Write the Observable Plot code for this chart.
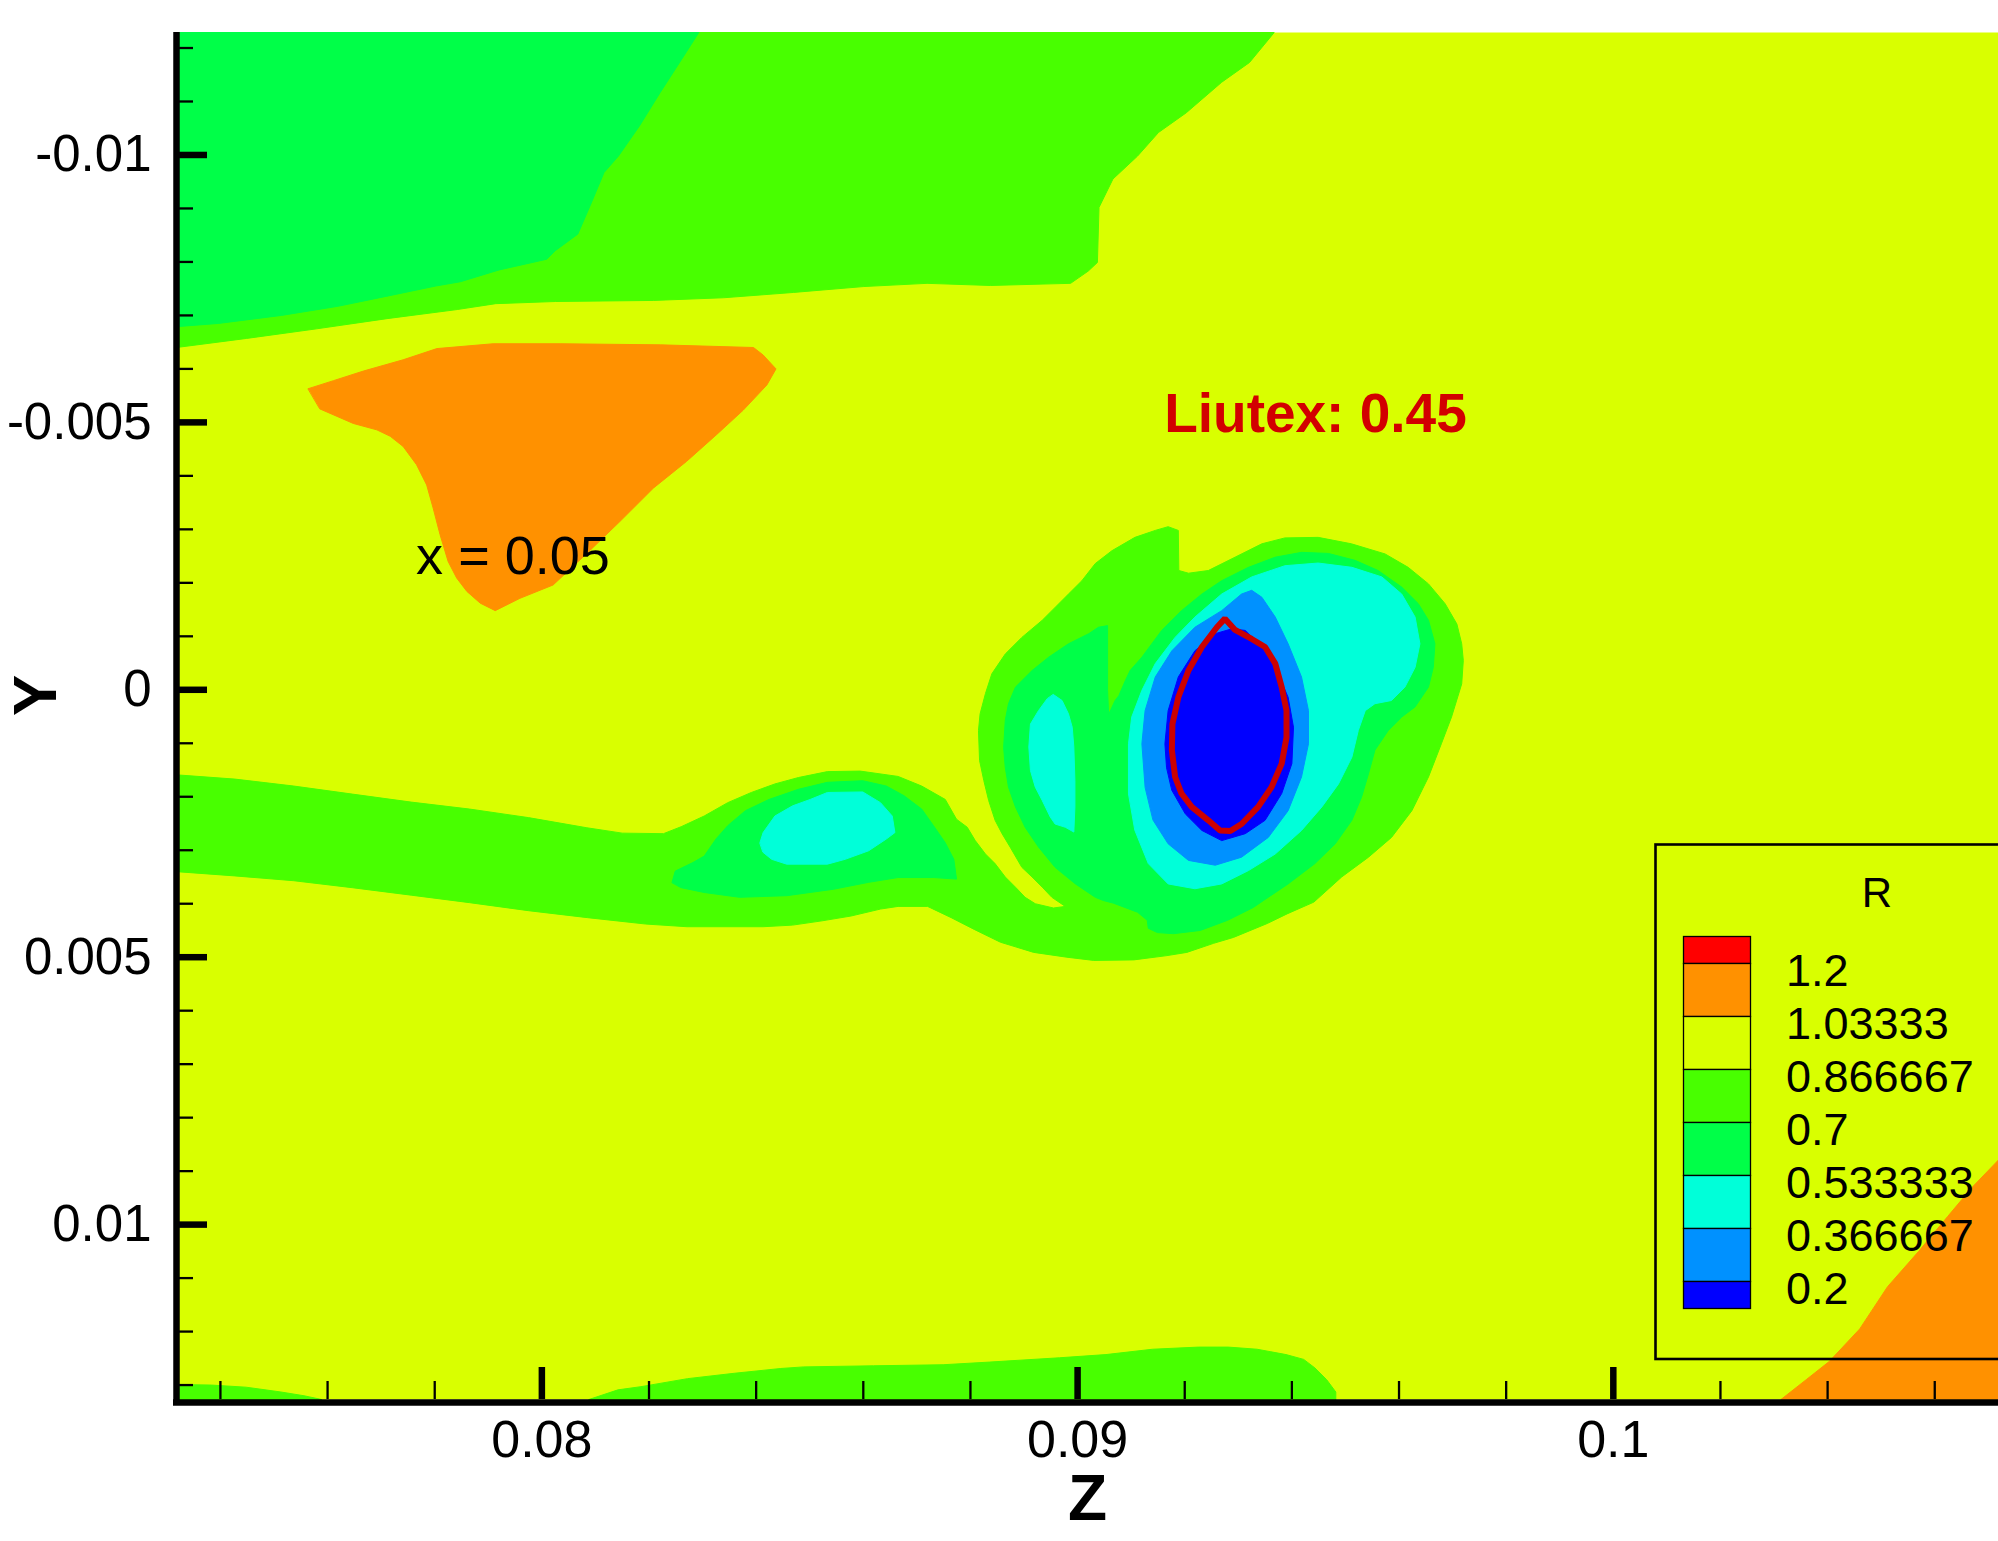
<!DOCTYPE html>
<html>
<head>
<meta charset="utf-8">
<script src="https://cdn.jsdelivr.net/npm/d3@7"></script>
<script src="https://cdn.jsdelivr.net/npm/@observablehq/plot@0.6"></script>
<style>
html, body { margin: 0; padding: 0; background: #ffffff; }
#chart { width: 1998px; height: 1541px; }
svg { display: block; }
</style>
</head>
<body>
<div id="chart"></div>
<script>
// All Z / Y coordinates below are given in units of 1e-3 (e.g. 80 -> Z = 0.08)
const U = 1e-3;
const zDomain = [73.18, 107.19];
const yDomain = [-12.29, 13.27];

// Contour levels of R and band colours (band 0 = above 1.2 ... band 7 = below 0.2)
const legendLabels = ["1.2", "1.03333", "0.866667", "0.7", "0.533333", "0.366667", "0.2"];
const bandColors = ["#FF0000", "#FF9100", "#D9FF00", "#48FF00", "#00FF48", "#00FFD9", "#0091FF", "#0000FF"];

// Axis ticks
const majorZ = [80, 90, 100];
const xTickLabels = ["0.08", "0.09", "0.1"];
const minorZ = [74, 76, 78, 82, 84, 86, 88, 92, 94, 96, 98, 102, 104, 106];
const majorY = [-10, -5, 0, 5, 10];
const yTickLabels = ["-0.01", "-0.005", "0", "0.005", "0.01"];
const minorY = [-12, -11, -9, -8, -7, -6, -4, -3, -2, -1, 1, 2, 3, 4, 6, 7, 8, 9, 11, 12, 13];

// Annotations
const annoText = ["Liutex: 0.45", "x = 0.05"];
const annoZ = [94.44, 79.46];
const annoY = [-4.82, -2.16];

// Filled contour regions [Z, Y]
const topGreen1 = [[73.18,-12.29],[93.67,-12.29],[93.21,-11.73],[92.69,-11.36],[92.03,-10.79],[91.51,-10.42],[91.12,-9.98],[90.66,-9.55],[90.40,-9.02],[90.37,-7.99],[90.20,-7.83],[89.87,-7.60],[88.37,-7.56],[87.19,-7.60],[86.01,-7.54],[84.70,-7.43],[83.39,-7.33],[82.08,-7.28],[80.25,-7.26],[79.14,-7.22],[78.42,-7.11],[77.11,-6.94],[75.80,-6.75],[74.49,-6.57],[73.18,-6.40]];

const topGreen2 = [[73.18,-12.29],[82.93,-12.29],[82.61,-11.79],[82.21,-11.17],[81.82,-10.54],[81.43,-9.98],[81.16,-9.67],[80.90,-9.05],[80.67,-8.52],[80.25,-8.21],[80.09,-8.05],[79.20,-7.85],[78.48,-7.63],[78.02,-7.55],[77.11,-7.36],[76.19,-7.17],[75.14,-7.00],[73.96,-6.85],[73.18,-6.79]];

const orangeUpper = [[75.64,-5.63],[76.11,-5.78],[76.67,-5.96],[77.41,-6.17],[78.04,-6.38],[79.09,-6.47],[80.34,-6.47],[82.21,-6.45],[83.95,-6.40],[84.13,-6.26],[84.37,-6.00],[84.20,-5.70],[83.76,-5.23],[83.26,-4.77],[82.70,-4.27],[82.08,-3.77],[81.46,-3.15],[80.84,-2.55],[80.21,-1.96],[79.59,-1.71],[79.13,-1.48],[78.85,-1.62],[78.60,-1.84],[78.41,-2.09],[78.25,-2.40],[78.10,-2.90],[77.97,-3.40],[77.85,-3.83],[77.66,-4.21],[77.41,-4.55],[77.17,-4.74],[76.92,-4.86],[76.48,-4.98],[75.86,-5.25]];

const bottomGreenLeft = [[73.18,12.99],[73.83,13.00],[74.48,13.04],[75.13,13.13],[75.56,13.20],[75.89,13.27],[73.18,13.27]];

const bottomGreenRight = [[80.88,13.27],[81.42,13.09],[81.85,13.03],[82.72,12.88],[83.59,12.78],[84.46,12.69],[84.89,12.66],[86.19,12.64],[87.49,12.62],[88.36,12.57],[89.66,12.49],[90.53,12.43],[91.40,12.33],[92.26,12.29],[92.81,12.29],[93.35,12.33],[93.89,12.43],[94.22,12.52],[94.43,12.68],[94.65,12.90],[94.82,13.13],[94.82,13.27]];

const orangeCorner = [[103.13,13.27],[103.60,12.90],[104.03,12.56],[104.60,11.95],[105.12,11.16],[105.70,10.50],[106.24,9.85],[106.70,9.30],[107.19,8.79],[107.19,13.27]];

const wakeGreen1 = [[73.18,1.59],[74.27,1.67],[75.37,1.80],[76.46,1.95],[77.56,2.10],[78.65,2.23],[79.75,2.39],[80.84,2.58],[81.50,2.68],[82.27,2.69],[82.60,2.56],[83.03,2.36],[83.47,2.11],[83.91,1.92],[84.35,1.76],[84.79,1.64],[85.33,1.53],[85.94,1.52],[86.65,1.62],[87.09,1.80],[87.53,2.05],[87.74,2.42],
  [87.94,2.57],[88.09,2.82],[88.28,3.07],[88.46,3.25],[88.65,3.50],[88.84,3.69],[89.02,3.88],[89.21,4.00],[89.55,4.08],[89.77,4.05],
  [89.52,3.88],[89.34,3.69],[89.15,3.50],[88.96,3.32],[88.74,2.94],[88.59,2.69],[88.46,2.44],[88.34,2.07],[88.25,1.70],[88.17,1.32],[88.15,0.76],[88.18,0.45],[88.28,0.07],[88.40,-0.30],[88.65,-0.67],[88.96,-0.98],[89.34,-1.30],[89.58,-1.54],[89.83,-1.79],[90.08,-2.04],[90.33,-2.36],[90.64,-2.60],[91.07,-2.85],[91.45,-2.98],[91.69,-3.05],[91.88,-2.98],[91.89,-2.23],[92.07,-2.18],[92.44,-2.23],[92.94,-2.48],[93.44,-2.73],[93.87,-2.84],[94.49,-2.85],[95.11,-2.73],[95.74,-2.54],[96.17,-2.29],[96.55,-1.98],[96.86,-1.61],[97.08,-1.23],[97.17,-0.86],[97.20,-0.55],[97.17,-0.11],[96.98,0.51],[96.79,1.01],[96.55,1.63],[96.24,2.26],[95.86,2.76],[95.43,3.13],[94.93,3.50],[94.41,3.97],[93.91,4.19],[93.54,4.37],[92.91,4.63],[92.54,4.74],[92.04,4.91],[91.67,4.97],[91.05,5.05],[90.30,5.06],[89.80,5.00],[89.18,4.91],[88.56,4.72],[88.07,4.48],[87.64,4.26],[87.20,4.05],[86.65,4.05],[86.32,4.10],[85.77,4.23],[85.23,4.32],[84.68,4.40],[84.13,4.43],[82.71,4.43],[81.94,4.38],[80.85,4.26],[79.75,4.13],[78.65,3.98],[77.56,3.84],[76.46,3.70],[75.37,3.57],[74.27,3.48],[73.18,3.40]];

const bumpGreen2 = [[82.43,3.60],[82.49,3.39],[82.82,3.23],[83.03,3.11],[83.25,2.79],[83.47,2.54],[83.80,2.26],[84.24,2.05],[84.79,1.86],[85.33,1.73],[85.99,1.70],[86.43,1.80],[86.76,1.98],[87.09,2.23],[87.31,2.54],[87.53,2.86],[87.69,3.17],[87.74,3.54],[87.31,3.51],[86.65,3.51],[86.10,3.60],[85.44,3.73],[84.57,3.85],[83.69,3.88],[83.03,3.79],[82.60,3.70]];

const bumpCyan = [[84.07,2.86],[84.13,2.67],[84.35,2.36],[84.68,2.17],[85.01,2.05],[85.33,1.92],[85.99,1.91],[86.32,2.11],[86.54,2.36],[86.59,2.67],[86.43,2.79],[86.10,3.01],[85.66,3.17],[85.33,3.26],[84.57,3.26],[84.29,3.17],[84.13,3.04]];

const vortexGreen2 = [[88.62,1.07],[88.65,0.57],[88.71,0.26],[88.84,-0.05],[89.15,-0.36],[89.46,-0.61],[89.83,-0.86],[90.21,-1.05],[90.39,-1.17],[90.56,-1.20],[90.56,-0.54],[90.56,0.01],[90.58,0.46],[90.70,0.20],[90.77,0.11],[90.89,-0.17],[90.98,-0.36],[91.20,-0.61],[91.57,-1.11],[91.94,-1.48],[92.32,-1.79],[92.69,-2.04],[93.19,-2.29],[93.69,-2.48],[94.18,-2.57],[94.68,-2.55],[95.18,-2.42],[95.61,-2.23],[96.05,-1.92],[96.36,-1.61],[96.55,-1.30],[96.67,-0.86],[96.64,-0.42],[96.55,-0.05],[96.30,0.32],[96.05,0.51],[95.80,0.76],[95.55,1.13],[95.43,1.57],[95.30,2.01],[95.12,2.44],[94.81,2.88],[94.43,3.25],[93.93,3.63],[93.47,3.94],[93.28,4.07],[92.80,4.31],[92.29,4.50],[91.79,4.56],[91.49,4.54],[91.32,4.46],[91.30,4.31],[91.12,4.16],[90.67,3.99],[90.48,3.94],[90.33,3.88],[89.96,3.63],[89.58,3.32],[89.27,2.94],[89.02,2.57],[88.84,2.19],[88.71,1.82],[88.65,1.45]];

const vortexCyan = [[90.95,1.94],[90.95,1.01],[91.01,0.51],[91.20,0.01],[91.45,-0.49],[91.82,-0.98],[92.19,-1.36],[92.69,-1.79],[93.25,-2.11],[93.87,-2.32],[94.49,-2.37],[95.12,-2.29],[95.68,-2.11],[96.05,-1.79],[96.30,-1.36],[96.39,-0.86],[96.30,-0.42],[96.11,-0.05],[95.86,0.20],[95.55,0.26],[95.37,0.39],[95.24,0.76],[95.12,1.26],[94.87,1.76],[94.56,2.19],[94.18,2.63],[93.69,3.07],[93.19,3.38],[92.69,3.63],[92.19,3.72],[91.69,3.63],[91.32,3.25],[91.07,2.63]];

const vortexMidBlue = [[91.26,1.82],[91.20,1.01],[91.26,0.39],[91.45,-0.24],[91.76,-0.73],[92.19,-1.17],[92.69,-1.48],[93.06,-1.79],[93.25,-1.86],[93.44,-1.73],[93.69,-1.36],[93.93,-0.86],[94.18,-0.24],[94.31,0.39],[94.31,1.01],[94.18,1.63],[93.93,2.26],[93.56,2.76],[93.06,3.13],[92.57,3.28],[92.07,3.19],[91.69,2.88],[91.41,2.44]];

const vortexCore = [[91.66,1.45],[91.63,1.01],[91.69,0.39],[91.88,-0.24],[92.19,-0.73],[92.57,-1.05],[92.88,-1.14],[93.13,-1.11],[93.44,-0.80],[93.69,-0.42],[93.93,0.14],[94.03,0.70],[94.00,1.38],[93.81,1.94],[93.50,2.44],[93.13,2.69],[92.69,2.82],[92.32,2.63],[92.01,2.32],[91.76,1.88]];

const islandCyan = [[89.55,0.09],[89.71,0.20],[89.83,0.45],[89.90,0.70],[89.93,1.07],[89.95,1.70],[89.95,2.19],[89.93,2.66],[89.77,2.57],[89.58,2.51],[89.49,2.38],[89.34,2.07],[89.21,1.82],[89.12,1.51],[89.09,1.07],[89.12,0.64],[89.27,0.39],[89.43,0.17]];

// Liutex = 0.45 iso-line
const liutexLoop = [[92.75,-1.33],[92.60,-1.17],[92.32,-0.80],[92.07,-0.36],[91.88,0.14],[91.77,0.64],[91.76,1.13],[91.82,1.63],[91.94,1.94],[92.13,2.19],[92.44,2.44],[92.66,2.63],[92.85,2.64],[93.06,2.51],[93.37,2.19],[93.62,1.82],[93.81,1.38],[93.90,0.89],[93.90,0.39],[93.81,-0.05],[93.69,-0.49],[93.50,-0.80],[93.25,-0.95],[92.94,-1.12]];

const regions = [
  {band: 3, pts: topGreen1},
  {band: 4, pts: topGreen2},
  {band: 1, pts: orangeUpper},
  {band: 3, pts: bottomGreenLeft},
  {band: 3, pts: bottomGreenRight},
  {band: 1, pts: orangeCorner},
  {band: 3, pts: wakeGreen1},
  {band: 4, pts: bumpGreen2},
  {band: 5, pts: bumpCyan},
  {band: 4, pts: vortexGreen2},
  {band: 5, pts: vortexCyan},
  {band: 6, pts: vortexMidBlue},
  {band: 7, pts: vortexCore},
  {band: 5, pts: islandCyan}
];

const toRows = pts => pts.map(([z, y]) => ({Z: z * U, Y: y * U}));

const W = 1998, H = 1541;
const mL = 176, mR = 0, mT = 32, mB = 142;
const frameW = W - mL - mR, frameH = H - mT - mB;
const FONT = "'Liberation Sans', Arial, Helvetica, sans-serif";

const marks = [
  Plot.frame({fill: bandColors[2], stroke: "none"}),
  ...regions.map(r => Plot.line(toRows(r.pts), {
    x: "Z", y: "Y", curve: "linear-closed",
    fill: bandColors[r.band], stroke: bandColors[r.band], strokeWidth: 1
  })),
  Plot.line(toRows(liutexLoop), {x: "Z", y: "Y", curve: "linear-closed", stroke: "#CC0000", strokeWidth: 6, strokeLinejoin: "miter"}),
  // annotations
  Plot.text([0], {x: i => annoZ[0] * U, y: i => annoY[0] * U, text: i => annoText[0], fill: "#D20000", fontSize: 55, fontWeight: "bold", lineAnchor: "bottom", textAnchor: "middle"}),
  Plot.text([1], {x: i => annoZ[1] * U, y: i => annoY[1] * U, text: i => annoText[1], fill: "#000000", fontSize: 54, lineAnchor: "bottom", textAnchor: "middle"}),
  // ticks (pointing inward)
  Plot.tickX(minorZ, {x: d => d * U, insetTop: frameH - 18, stroke: "black", strokeWidth: 2.3}),
  Plot.tickX(majorZ, {x: d => d * U, insetTop: frameH - 32, stroke: "black", strokeWidth: 6.5}),
  Plot.tickY(minorY, {y: d => d * U, insetRight: frameW - 17, stroke: "black", strokeWidth: 2.3}),
  Plot.tickY(majorY, {y: d => d * U, insetRight: frameW - 31, stroke: "black", strokeWidth: 6.5}),
  // axis lines
  Plot.ruleX([zDomain[0] * U], {stroke: "black", strokeWidth: 6.5, insetBottom: -6}),
  Plot.ruleY([yDomain[1] * U], {stroke: "black", strokeWidth: 6.5, dy: 3, insetLeft: -3}),
  // tick labels
  Plot.text(majorZ, {x: d => d * U, text: (d, i) => xTickLabels[i], frameAnchor: "bottom", lineAnchor: "bottom", dy: 57, fontSize: 52, fill: "black"}),
  Plot.text(majorY, {y: d => d * U, text: (d, i) => yTickLabels[i], frameAnchor: "left", textAnchor: "end", lineAnchor: "middle", dx: -25, fontSize: 51, fill: "black"}),
  // axis titles
  Plot.text(["Z"], {text: d => d, frameAnchor: "bottom", lineAnchor: "bottom", dy: 120, fontSize: 64, fontWeight: "bold", fill: "black"}),
  Plot.text(["Y"], {text: d => d, frameAnchor: "left", dx: -140, rotate: -90, lineAnchor: "middle", fontSize: 62, fontWeight: "bold", fill: "black"})
];

const chart = Plot.plot({
  width: W, height: H,
  marginLeft: mL, marginRight: mR, marginTop: mT, marginBottom: mB,
  style: {fontFamily: FONT, background: "transparent", overflow: "visible"},
  x: {domain: zDomain.map(v => v * U), axis: null},
  y: {domain: yDomain.map(v => v * U), reverse: true, axis: null},
  marks
});

// Legend (contour level key), drawn inside the plot area as in the original
const svg = d3.select(chart);
const lg = svg.append("g").attr("font-family", FONT).attr("text-anchor", "start");
lg.append("rect").attr("x", 1655.5).attr("y", 844.5).attr("width", 400).attr("height", 514.5)
  .attr("fill", "none").attr("stroke", "black").attr("stroke-width", 2.6);
lg.append("text").attr("x", 1877).attr("y", 907).attr("text-anchor", "middle")
  .attr("font-size", 42).attr("fill", "black").text("R");
const swX = 1683.5, swW = 67, sw0 = 936.5, half = 27, full = 53;
bandColors.forEach((c, i) => {
  const top = i === 0 ? sw0 : sw0 + half + (i - 1) * full;
  const h = (i === 0 || i === bandColors.length - 1) ? half : full;
  lg.append("rect").attr("x", swX).attr("y", top).attr("width", swW).attr("height", h)
    .attr("fill", c).attr("stroke", "black").attr("stroke-width", 1.3);
});
legendLabels.forEach((t, i) => {
  const yb = sw0 + half + i * full;
  lg.append("text").attr("x", 1786).attr("y", yb + 7).attr("dy", "0.35em")
    .attr("text-anchor", "start").attr("font-size", 45).attr("fill", "black").text(t);
});

document.getElementById("chart").appendChild(chart);
</script>
</body>
</html>
